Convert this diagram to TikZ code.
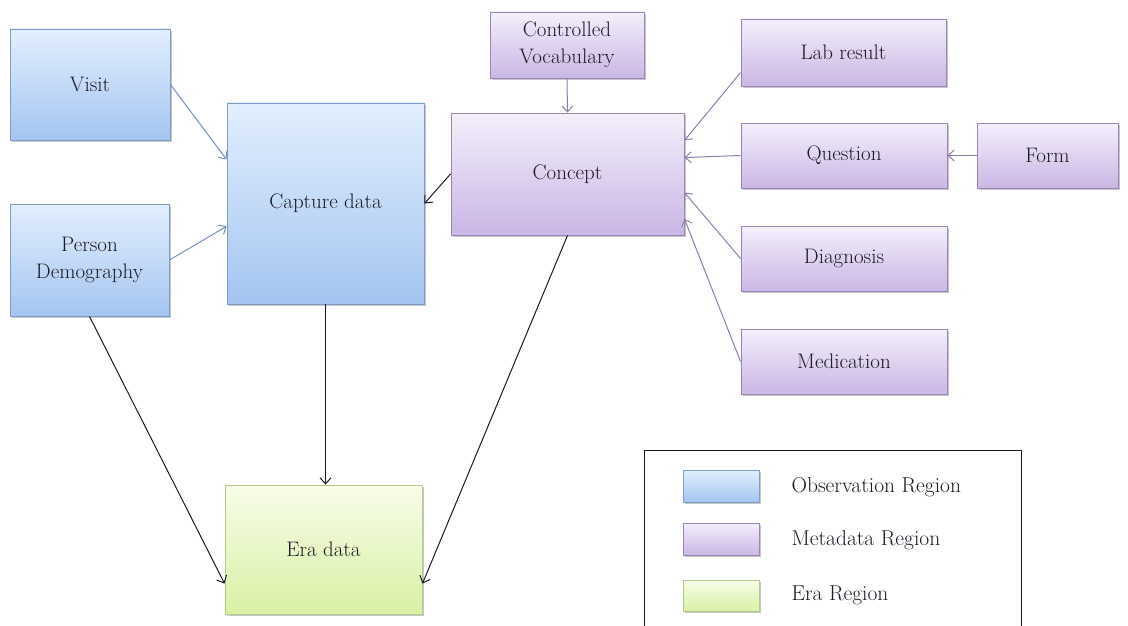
\documentclass[tikz,border=0pt]{standalone}
\usetikzlibrary{arrows.meta,shadows}

\definecolor{obstop}{HTML}{E2EFFD}
\definecolor{obsbot}{HTML}{A4C5F1}
\definecolor{obsline}{HTML}{7F9DC4}
\definecolor{metatop}{HTML}{F4EFFC}
\definecolor{metabot}{HTML}{CAB6E4}
\definecolor{metaline}{HTML}{9A86B4}
\definecolor{eratop}{HTML}{F8FCEA}
\definecolor{erabot}{HTML}{D8F1A4}
\definecolor{eraline}{HTML}{B5CB8A}
\definecolor{obsarrow}{HTML}{7391C0}
\definecolor{metaarrow}{HTML}{8E7CAC}
\definecolor{textdark}{HTML}{1C1A24}

\tikzset{
  regionbox/.style={draw, rectangle, inner sep=2pt, align=center, line width=0.9pt,
    text=textdark, font=\fontsize{21}{27}\selectfont,
    drop shadow={shadow xshift=1.5pt, shadow yshift=-2pt, opacity=0.45}},
  obsbox/.style={regionbox, draw=obsline, top color=obstop, bottom color=obsbot},
  metabox/.style={regionbox, draw=metaline, top color=metatop, bottom color=metabot},
  erabox/.style={regionbox, draw=eraline, top color=eratop, bottom color=erabot},
  link/.style={line width=1pt, -{Straight Barb[length=6pt,width=11pt]}},
  obslink/.style={link, draw=obsarrow},
  metalink/.style={link, draw=metaarrow},
  eralink/.style={link, draw=textdark},
  keytext/.style={anchor=west, text=textdark, font=\fontsize{21.5}{26}\selectfont}
}

\begin{document}
\begin{tikzpicture}[x=1pt,y=-1pt]
        \useasboundingbox (0,0) rectangle (1128,626);

        % observation region
        \node[obsbox, minimum width=160pt, minimum height=111pt] (visit) at (90,84.5) {Visit};
        \node[obsbox, minimum width=159pt, minimum height=112pt] (person) at (89.5,260) {Person\\Demography};
        \node[obsbox, minimum width=197pt, minimum height=201pt] (capture) at (325.5,203.5) {Capture data};

        % metadata region
        \node[metabox, minimum width=154pt, minimum height=66pt] (vocab) at (567,45) {Controlled\\Vocabulary};
        \node[metabox, minimum width=233pt, minimum height=122pt] (concept) at (567.5,174) {Concept};
        \node[metabox, minimum width=205pt, minimum height=67pt] (lab) at (843.5,52.5) {Lab result};
        \node[metabox, minimum width=206pt, minimum height=65pt] (question) at (844,155.5) {Question};
        \node[metabox, minimum width=141pt, minimum height=65pt] (form) at (1047.5,155.5) {Form};
        \node[metabox, minimum width=206pt, minimum height=65pt] (diagnosis) at (844,258.5) {Diagnosis};
        \node[metabox, minimum width=206pt, minimum height=65pt] (medication) at (844,361.5) {Medication};

        % era region
        \node[erabox, minimum width=197pt, minimum height=129pt] (era) at (323.5,549.5) {Era data};

        % links
        \draw[obslink] (visit.east) -- (capture.156);
        \draw[obslink] (person.east) -- (capture.193);
        \draw[eralink] (concept.west) -- (capture.east);
        \draw[metalink] (vocab.south) -- (concept.north);
        \draw[metalink] (lab.191) -- (concept.16);
        \draw[metalink] (question.west) -- (concept.8);
        \draw[metalink] (diagnosis.west) -- (concept.-9);
        \draw[metalink] (medication.west) -- (concept.-21);
        \draw[metalink] (form.west) -- (question.east);
        \draw[eralink] (person.south) -- (era.199);
        \draw[eralink] (capture.south) -- (capture.south |- era.north);
        \draw[eralink] (concept.south) -- (era.-19);

        % legend
        \draw[line width=1pt, draw=textdark] (644,626) -- (644,450) -- (1021,450) -- (1021,626);
        \node[obsbox, minimum width=76pt, minimum height=32pt] (keyobs) at (721,486) {};
        \node[metabox, minimum width=76pt, minimum height=32pt] (keymeta) at (721,539) {};
        \node[erabox, minimum width=76pt, minimum height=31pt] (keyera) at (721,595.5) {};
        \node[keytext] (keyobstext) at (788,487) {Observation Region};
        \node[keytext] (keymetatext) at (788,540) {Metadata Region};
        \node[keytext] (keyeratext) at (788,595) {Era Region};
    \end{tikzpicture}
\end{document}
